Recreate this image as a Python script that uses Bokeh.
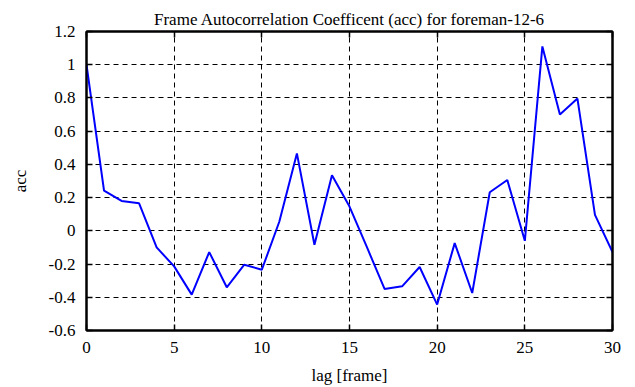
from bokeh.plotting import figure
from bokeh.models import FixedTicker, LinearAxis, Range1d
from bokeh.embed import file_html
from bokeh.resources import INLINE

lag = list(range(31))
acc = [1.0, 0.242, 0.18, 0.166, -0.10, -0.214, -0.384, -0.128, -0.34, -0.204,
       -0.234, 0.056, 0.466, -0.084, 0.334, 0.146, -0.10, -0.35, -0.334, -0.218,
       -0.444, -0.074, -0.374, 0.232, 0.306, -0.06, 1.11, 0.70, 0.796, 0.096,
       -0.128]

x_ticks = [0, 5, 10, 15, 20, 25, 30]
y_ticks = [-0.6, -0.4, -0.2, 0, 0.2, 0.4, 0.6, 0.8, 1.0, 1.2]
y_labels = ["-0.6", "-0.4", "-0.2", "0", "0.2", "0.4", "0.6", "0.8", "1", "1.2"]

FONT = "'Liberation Serif', 'Times New Roman', serif"

p = figure(width=635, height=387, output_backend="svg", toolbar_location=None,
           x_range=Range1d(0, 30), y_range=Range1d(-0.6, 1.2),
           min_border_left=86, min_border_right=23, min_border_top=31,
           min_border_bottom=56, x_axis_label="lag [frame]", y_axis_label="acc")

p.title.text = "Frame Autocorrelation Coefficent (acc) for foreman-12-6"
p.title.align = "center"
p.title.text_font = FONT
p.title.text_font_style = "normal"
p.title.text_font_size = "17px"
p.title.text_color = "black"
p.title.offset = 0
p.title.standoff = 5

p.line(lag, acc, line_color="#0000ff", line_width=2)

p.outline_line_color = "black"
p.outline_line_width = 2
p.outline_line_alpha = 1
p.background_fill_color = "white"
p.border_fill_color = "white"

for ax in (p.xaxis[0], p.yaxis[0]):
    ax.axis_line_color = "black"
    ax.axis_line_width = 2
    ax.major_tick_in = 6
    ax.major_tick_out = 0
    ax.minor_tick_line_color = None
    ax.major_tick_line_color = "black"
    ax.major_tick_line_width = 1.5
    ax.major_label_text_font = FONT
    ax.major_label_text_font_size = "17px"
    ax.major_label_text_color = "black"
    ax.axis_label_text_font = FONT
    ax.axis_label_text_font_size = "17px"
    ax.axis_label_text_font_style = "normal"
    ax.axis_label_text_color = "black"

p.xaxis[0].ticker = FixedTicker(ticks=x_ticks)
p.yaxis[0].ticker = FixedTicker(ticks=y_ticks)
p.yaxis[0].major_label_overrides = {t: l for t, l in zip(y_ticks, y_labels)}
p.yaxis[0].major_label_orientation = "horizontal"
p.yaxis[0].major_label_standoff = 11
p.xaxis[0].major_label_standoff = 11
p.xaxis[0].axis_label_standoff = 10
p.yaxis[0].axis_label_standoff = 16

top = LinearAxis(ticker=FixedTicker(ticks=x_ticks), major_label_text_font_size="0px",
                 major_tick_in=6, major_tick_out=0, minor_tick_line_color=None,
                 axis_line_width=2, major_tick_line_width=1.5)
right = LinearAxis(ticker=FixedTicker(ticks=y_ticks), major_label_text_font_size="0px",
                   major_tick_in=6, major_tick_out=0, minor_tick_line_color=None,
                   axis_line_width=2, major_tick_line_width=1.5)
top.major_label_text_color = None
right.major_label_text_color = None
p.add_layout(top, "above")
p.add_layout(right, "right")

p.xgrid.ticker = FixedTicker(ticks=x_ticks)
p.ygrid.ticker = FixedTicker(ticks=y_ticks)
for g in (p.xgrid[0], p.ygrid[0]):
    g.grid_line_color = "black"
    g.grid_line_dash = "5 4"
    g.grid_line_width = 1
    g.grid_line_alpha = 1

open("out.html", "w").write(file_html(p, INLINE))
